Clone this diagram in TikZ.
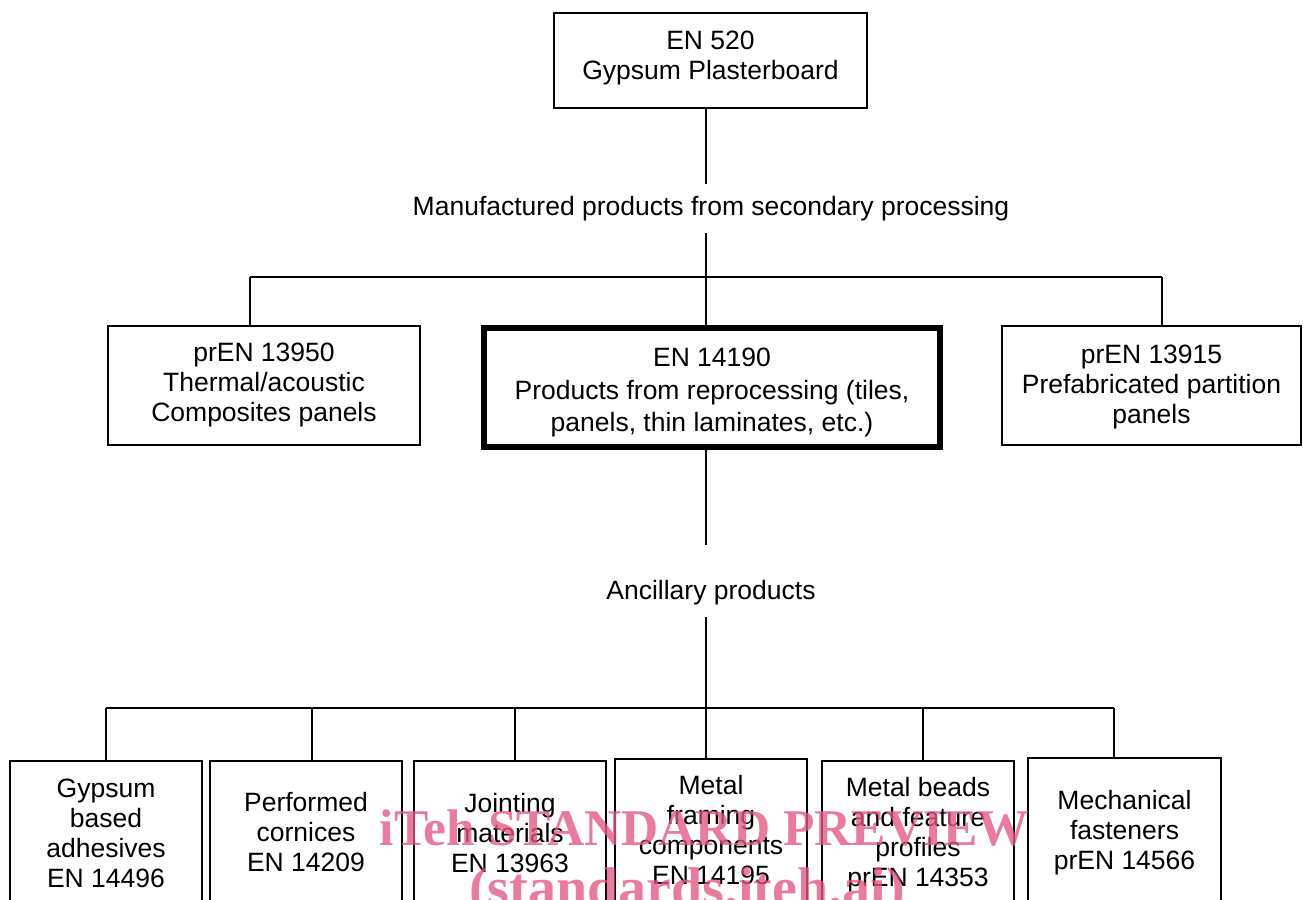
\documentclass[tikz,border=0pt]{standalone}
\usepackage{fontspec}
\setmainfont{Liberation Sans}
\newfontfamily\wmfont{Liberation Serif}
\definecolor{wmpink}{RGB}{229,86,128}
\begin{document}
\begin{tikzpicture}[x=1pt,y=-1pt,
  box/.style={draw=black, line width=1.2pt, inner sep=0pt},
  thickbox/.style={draw=black, line width=5.5pt, inner sep=0pt},
  txt/.style={align=center, inner sep=0pt, font=\fontsize{26.5}{30}\selectfont},
  lbl/.style={inner xsep=0pt, inner ysep=12pt, font=\fontsize{26.5}{30}\selectfont},
  conn/.style={draw=black, line width=1.2pt},
  wm/.style={inner sep=0pt, text=wmpink, text opacity=0.78, font=\wmfont\bfseries\fontsize{51.5}{55}\selectfont}]
\useasboundingbox (0,0) rectangle (1303,899);
\clip (0,0) rectangle (1303,899);

% trunk x reference
\coordinate (tx) at (706,0);

% top box
\node[box, minimum width=313pt, minimum height=95pt] (top) at (710.5,60.5) {};
\node[txt] (topt) at (710.5,57.7) {EN 520\\Gypsum Plasterboard};

% label 1
\node[lbl] (mfg) at (711,208.5) {Manufactured products from secondary processing};

% second level boxes
\node[box, minimum width=312pt, minimum height=119pt] (left) at (264,385.5) {};
\node[txt] (leftt) at (264,384.7) {prEN 13950\\Thermal/acoustic\\Composites panels};

\node[thickbox, minimum width=456pt, minimum height=119pt] (mid) at (712,387.5) {};
\node[txt, font=\fontsize{26.5}{32.5}\selectfont] (midt) at (712,392.5) {EN 14190\\Products from reprocessing (tiles,\\panels, thin laminates, etc.)};

\node[box, minimum width=299pt, minimum height=119pt] (right) at (1151.5,385.5) {};
\node[txt] (rightt) at (1151.5,387) {prEN 13915\\Prefabricated partition\\panels};

% label 2
\node[lbl] (anc) at (711,592.5) {Ancillary products};
\coordinate (ancin) at (706,545);
\coordinate (ancout) at (706,617);

% bottom boxes
\node[box, minimum width=192pt, minimum height=179pt] (b1) at (106,850.5) {};
\node[txt] (t1) at (106,833) {Gypsum\\based\\adhesives\\EN 14496};
\node[box, minimum width=192pt, minimum height=179pt] (b2) at (306,850.5) {};
\node[txt] (t2) at (306,832.5) {Performed\\cornices\\EN 14209};
\node[box, minimum width=192pt, minimum height=179pt] (b3) at (510,850.5) {};
\node[txt] (t3) at (510,833) {Jointing\\materials\\EN 13963};
\node[box, minimum width=192pt, minimum height=181pt] (b4) at (711,849.5) {};
\node[txt] (t4) at (711,830) {Metal\\framing\\components\\EN 14195};
\node[box, minimum width=192pt, minimum height=179pt] (b5) at (918,850.5) {};
\node[txt] (t5) at (918,835) {Metal beads\\and feature\\profiles\\prEN 14353};
\node[box, minimum width=193pt, minimum height=182pt] (b6) at (1124.5,849) {};
\node[txt] (t6) at (1124.5,832.7) {Mechanical\\fasteners\\prEN 14566};

% bar coordinates
\coordinate (hb) at (706,277);
\coordinate (hl) at (250,277);
\coordinate (hr) at (1162,277);
\coordinate (bb) at (706,708);
\coordinate (d1) at (106,708);
\coordinate (d2) at (312,708);
\coordinate (d3) at (515,708);
\coordinate (d5) at (923,708);
\coordinate (d6) at (1114,708);

% connectors
\draw[conn] (top.south -| tx) -- (mfg.north -| tx);
\draw[conn] (mfg.south -| tx) -- (hb);
\draw[conn] (hl) -- (hr);
\draw[conn] (hl) -- (hl |- left.north);
\draw[conn] (hr) -- (hr |- right.north);
\draw[conn] (hb) -- (hb |- mid.north);
\draw[conn] (mid.south -| tx) -- (ancin);
\draw[conn] (ancout) -- (bb);
\draw[conn] (d1) -- (d6);
\draw[conn] (d1) -- (d1 |- b1.north);
\draw[conn] (d2) -- (d2 |- b2.north);
\draw[conn] (d3) -- (d3 |- b3.north);
\draw[conn] (bb) -- (bb |- b4.north);
\draw[conn] (d5) -- (d5 |- b5.north);
\draw[conn] (d6) -- (d6 |- b6.north);

% watermark
\node[wm, anchor=base] (wm1) at (704.5,845) {iTeh STANDARD PREVIEW};
\node[wm, anchor=base, font=\wmfont\bfseries\fontsize{56}{60}\selectfont] (wm2) at (687,906) {(standards.iteh.ai)};
\end{tikzpicture}
\end{document}
